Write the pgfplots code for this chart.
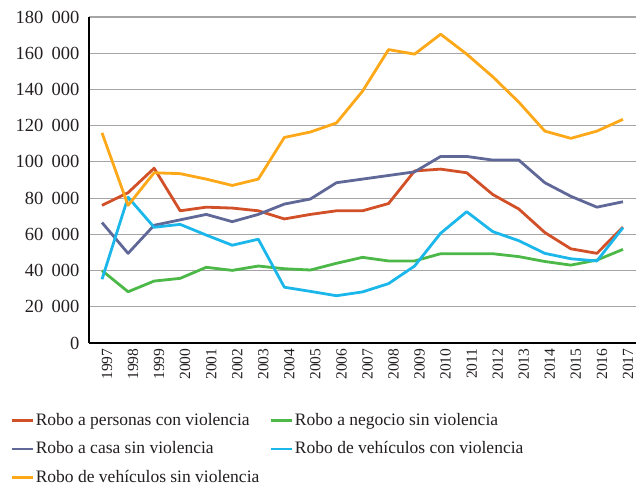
\documentclass[border=0pt]{standalone}
\usepackage{pgfplots}
\pgfplotsset{compat=1.18}
\usepackage{fontspec}
\setmainfont{Liberation Serif}
\usetikzlibrary{calc}

\definecolor{cRed}{RGB}{210,80,40}
\definecolor{cPurple}{RGB}{96,104,152}
\definecolor{cYellow}{RGB}{252,168,24}
\definecolor{cGreen}{RGB}{76,184,72}
\definecolor{cBlue}{RGB}{27,183,234}
\definecolor{cGrid}{RGB}{165,165,165}
\definecolor{cText}{RGB}{35,31,32}

\newcommand{\ts}{\hspace{0.45em}}

\begin{document}
\begin{tikzpicture}
\begin{axis}[
  name=ax,
  scale only axis,
  width=547pt, height=326pt,
  xmin=1996.5, xmax=2017.5,
  ymin=0, ymax=180000,
  axis x line*=bottom, axis y line*=left,
  axis line style={black, line width=1.1pt, -},
  xtick={1997,1998,...,2017},
  xticklabels={1997,1998,1999,2000,2001,2002,2003,2004,2005,2006,2007,2008,2009,2010,2011,2012,2013,2014,2015,2016,2017},
  ytick={0,20000,40000,60000,80000,100000,120000,140000,160000,180000},
  yticklabels={0,20\ts000,40\ts000,60\ts000,80\ts000,100\ts000,120\ts000,140\ts000,160\ts000,180\ts000},
  scaled y ticks=false,
  major tick length=0pt,
  ymajorgrids, grid style={cGrid, line width=1.2pt},
  x tick label style={rotate=90, anchor=east, font=\fontsize{15.5}{18}\selectfont, text=cText, xshift=-2pt, yshift=-5pt},
  y tick label style={font=\fontsize{18.5}{22}\selectfont, text=cText, xshift=-6pt},
  legend columns=2,
  legend cell align=left,
  legend image code/.code={\draw[#1, line width=2.6pt] (0pt,0pt) -- (21pt,0pt);},
  legend style={draw=none, fill=none, inner sep=0pt, at={(-0.1444,-0.2055)}, anchor=north west,
    font=\fontsize{17.5}{21}\selectfont, text=cText,
    nodes={inner sep=2pt, text height=13pt, text depth=4pt},
    row sep=7.5pt,
    /tikz/every even column/.append style={column sep=8pt},
    /tikz/every odd column/.append style={column sep=0pt}},
  every axis plot/.append style={line width=2.8pt, line join=round},
]
\addplot[cRed] coordinates {
(1997,76000) (1998,83000) (1999,96500) (2000,73000) (2001,75000) (2002,74500) (2003,73000)
(2004,68500) (2005,71000) (2006,73000) (2007,73000) (2008,77000) (2009,95000) (2010,96000)
(2011,94000) (2012,82000) (2013,74000) (2014,61000) (2015,52000) (2016,49500) (2017,64000)};
\addlegendentry{Robo a personas con violencia}
\addplot[cGreen] coordinates {
(1997,40000) (1998,28300) (1999,34200) (2000,35700) (2001,41800) (2002,40100) (2003,42500)
(2004,41000) (2005,40300) (2006,44000) (2007,47300) (2008,45300) (2009,45300) (2010,49300)
(2011,49300) (2012,49300) (2013,47700) (2014,45000) (2015,43000) (2016,45800) (2017,51700)};
\addlegendentry{Robo a negocio sin violencia}
\addplot[cPurple] coordinates {
(1997,66500) (1998,49500) (1999,65000) (2000,68000) (2001,71000) (2002,67000) (2003,71000)
(2004,76700) (2005,79500) (2006,88500) (2007,90500) (2008,92500) (2009,94500) (2010,103000)
(2011,103000) (2012,101000) (2013,101000) (2014,88500) (2015,81000) (2016,75000) (2017,78000)};
\addlegendentry{Robo a casa sin violencia}
\addplot[cBlue] coordinates {
(1997,35200) (1998,80500) (1999,63900) (2000,65500) (2001,59600) (2002,54000) (2003,57300)
(2004,30800) (2005,28500) (2006,26100) (2007,28200) (2008,32800) (2009,42500) (2010,60600)
(2011,72500) (2012,61500) (2013,56500) (2014,49500) (2015,46500) (2016,45300) (2017,63700)};
\addlegendentry{Robo de vehículos con violencia}
\addplot[cYellow] coordinates {
(1997,116000) (1998,76000) (1999,94000) (2000,93500) (2001,90500) (2002,87000) (2003,90500)
(2004,113500) (2005,116500) (2006,121500) (2007,139000) (2008,162000) (2009,159500) (2010,170500)
(2011,159500) (2012,147000) (2013,133000) (2014,117000) (2015,113000) (2016,117000) (2017,123500)};
\addlegendentry{Robo de vehículos sin violencia}
\end{axis}
\pgfresetboundingbox
\path ($(ax.south west)+(-89pt,-145pt)$) rectangle +(638pt,488pt);
\end{tikzpicture}
\end{document}
